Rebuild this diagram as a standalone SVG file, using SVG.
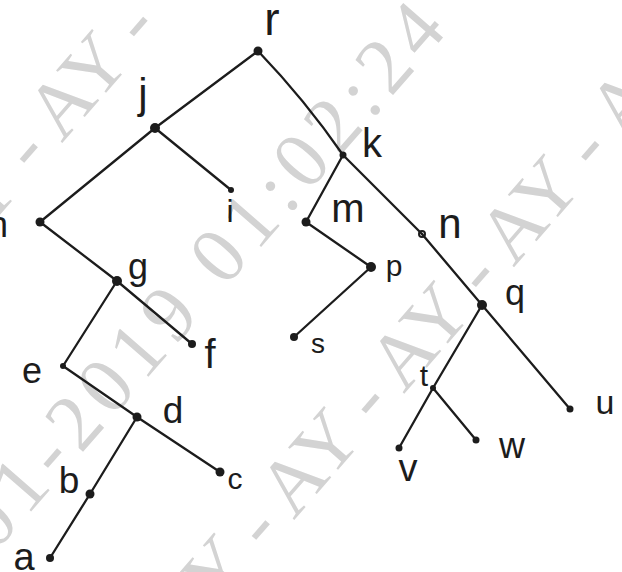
<svg xmlns="http://www.w3.org/2000/svg" width="622" height="572" viewBox="0 0 622 572">
<style>
.wm{font-family:"Liberation Serif","Times New Roman",serif;font-size:80px;fill:#d3d3d3}
.e{stroke:#1c1c1c;stroke-width:2.3;fill:none;stroke-linecap:round;stroke-linejoin:round}
.dot{fill:#1c1c1c}
.lbl{font-family:"Liberation Sans",Arial,sans-serif;fill:#1c1c1c;text-anchor:middle}
</style>
<rect width="622" height="572" fill="#ffffff"/>
<g id="watermark">
<text class="wm" transform="translate(-48,270) rotate(-49)" xml:space="preserve">AY - AY -</text>
<text class="wm" transform="translate(-5,553) rotate(-49)" letter-spacing="8">01-2019 01:02:24</text>
<text class="wm" transform="translate(184,647) rotate(-49)" xml:space="preserve">AY - AY - AY - AY - A</text>
</g>
<g id="connectors">
<path class="e" d="M258,51 L155,128"/>
<path class="e" d="M258,51 Q305,100 343,155"/>
<path class="e" d="M155,128 L40,222"/>
<path class="e" d="M155,128 L231,190"/>
<path class="e" d="M40,222 L117,281"/>
<path class="e" d="M117,281 L192,344"/>
<path class="e" d="M117,281 L63,366"/>
<path class="e" d="M63,366 L137,417"/>
<path class="e" d="M137,417 L220,472"/>
<path class="e" d="M137,417 L90,494"/>
<path class="e" d="M90,494 L50,558"/>
<path class="e" d="M343,155 L306,222"/>
<path class="e" d="M306,222 L371,267"/>
<path class="e" d="M371,267 L294,337"/>
<path class="e" d="M343,155 L422,234"/>
<path class="e" d="M422,234 L482,305"/>
<path class="e" d="M482,305 L570,409"/>
<path class="e" d="M482,305 L433,388"/>
<path class="e" d="M433,388 L399,448"/>
<path class="e" d="M433,388 L476,440"/>
</g>
<g id="node-r"><circle class="dot" cx="258" cy="51" r="4.5"/><text class="lbl" x="272" y="35" font-size="46">r</text></g>
<g id="node-j"><circle class="dot" cx="155" cy="128" r="5"/><text class="lbl" x="143" y="108" font-size="42">j</text></g>
<g id="node-k"><circle class="dot" cx="343" cy="155" r="3.5"/><text class="lbl" x="372" y="157" font-size="40">k</text></g>
<g id="node-h"><circle class="dot" cx="40" cy="222" r="4.5"/><text class="lbl" x="-2" y="237" font-size="36" text-anchor="start">h</text></g>
<g id="node-i"><circle class="dot" cx="231" cy="190" r="3"/><text class="lbl" x="230" y="222" font-size="32">i</text></g>
<g id="node-m"><circle class="dot" cx="306" cy="222" r="4.5"/><text class="lbl" x="348" y="222" font-size="40">m</text></g>
<g id="node-n"><circle cx="422" cy="234" r="3" fill="none" stroke="#1c1c1c" stroke-width="2"/><text class="lbl" x="450" y="238" font-size="42">n</text></g>
<g id="node-g"><circle class="dot" cx="117" cy="281" r="5"/><text class="lbl" x="138" y="279" font-size="36">g</text></g>
<g id="node-p"><circle class="dot" cx="371" cy="267" r="5"/><text class="lbl" x="394" y="276" font-size="30">p</text></g>
<g id="node-q"><circle class="dot" cx="482" cy="305" r="5"/><text class="lbl" x="515" y="305" font-size="36">q</text></g>
<g id="node-f"><circle class="dot" cx="192" cy="344" r="4"/><text class="lbl" x="210" y="368" font-size="40">f</text></g>
<g id="node-s"><circle class="dot" cx="294" cy="337" r="4"/><text class="lbl" x="318" y="353" font-size="28">s</text></g>
<g id="node-e"><circle class="dot" cx="63" cy="366" r="3"/><text class="lbl" x="32" y="383" font-size="36">e</text></g>
<g id="node-d"><circle class="dot" cx="137" cy="417" r="4.5"/><text class="lbl" x="173" y="423" font-size="37">d</text></g>
<g id="node-c"><circle class="dot" cx="220" cy="472" r="4.5"/><text class="lbl" x="235" y="489" font-size="30">c</text></g>
<g id="node-b"><circle class="dot" cx="90" cy="494" r="4.5"/><text class="lbl" x="69" y="493" font-size="37">b</text></g>
<g id="node-a"><circle class="dot" cx="50" cy="558" r="4"/><text class="lbl" x="24" y="570" font-size="38">a</text></g>
<g id="node-t"><circle class="dot" cx="433" cy="388" r="3"/><text class="lbl" x="424" y="386" font-size="30">t</text></g>
<g id="node-u"><circle class="dot" cx="570" cy="409" r="3.5"/><text class="lbl" x="605" y="414" font-size="34">u</text></g>
<g id="node-v"><circle class="dot" cx="399" cy="448" r="3.5"/><text class="lbl" x="408" y="481" font-size="38">v</text></g>
<g id="node-w"><circle class="dot" cx="476" cy="440" r="3.5"/><text class="lbl" x="512" y="458" font-size="36">w</text></g>
</svg>
